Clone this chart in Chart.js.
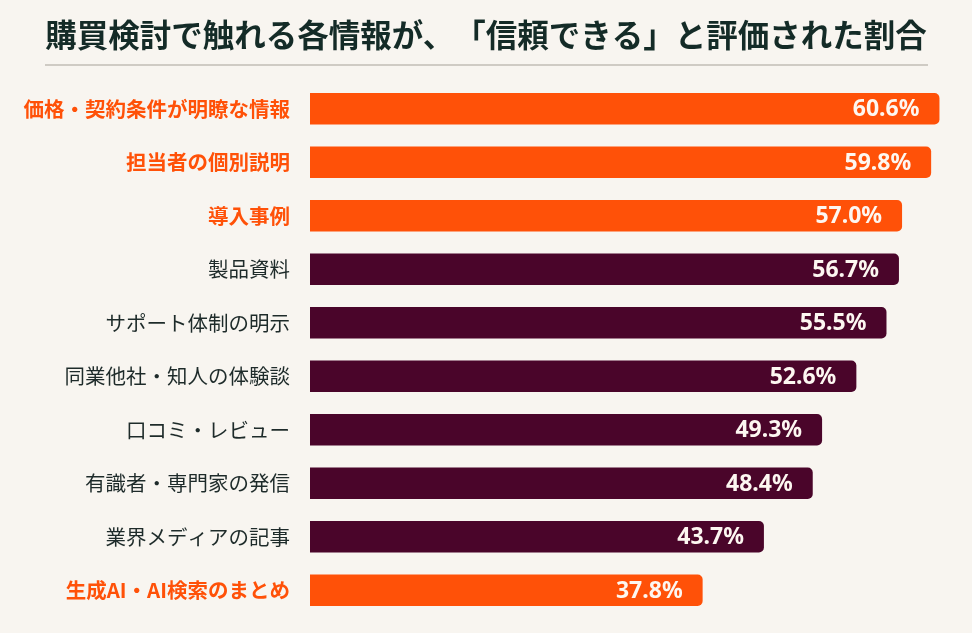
<!DOCTYPE html>
<html lang="ja">
<head>
<meta charset="utf-8">
<script src="https://cdn.jsdelivr.net/npm/chart.js@4"></script>
<style>
  html, body { margin: 0; padding: 0; background: #f8f5f0; }
  #wrap { width: 972px; height: 633px; }
</style>
</head>
<body>
<div id="wrap"><canvas id="trustChart" width="972" height="633"></canvas></div>
<script>
// タイトルは「、」と「「」の間が詰まらないよう 2 つに分けて描く
const titleParts = ['購買検討で触れる各情報が、', '「信頼できる」と評価された割合'];
const categories = [
    '価格・契約条件が明瞭な情報',
    '担当者の個別説明',
    '導入事例',
    '製品資料',
    'サポート体制の明示',
    '同業他社・知人の体験談',
    '口コミ・レビュー',
    '有識者・専門家の発信',
    '業界メディアの記事',
    '生成AI・AI検索のまとめ'
];
const trustRates = [60.6, 59.8, 57.0, 56.7, 55.5, 52.6, 49.3, 48.4, 43.7, 37.8];
const highlighted = [true, true, true, false, false, false, false, false, false, true];

const ORANGE = '#ff5108';
const MAROON = '#4a052a';
const DARK = '#1e2b2a';
const FONT = '"Noto Sans CJK JP", "Noto Sans", sans-serif';

document.addEventListener('DOMContentLoaded', () => {
    // 値ラベル（バーの右端内側）
    const valueLabels = {
        id: 'valueLabels',
        afterDatasetsDraw(chart) {
            const ctx = chart.ctx;
            const meta = chart.getDatasetMeta(0);
            ctx.save();
            ctx.font = 'bold 23px "Noto Sans", ' + FONT;
            ctx.fillStyle = '#fdf7f1';
            ctx.textAlign = 'right';
            ctx.textBaseline = 'middle';
            meta.data.forEach((bar, i) => {
                ctx.fillText(trustRates[i].toFixed(1) + '%', bar.x - 20, bar.y + 1);
            });
            ctx.restore();
        }
    };

    // タイトルと区切り線
    const titleBlock = {
        id: 'titleBlock',
        afterDraw(chart) {
            const ctx = chart.ctx;
            ctx.save();
            ctx.font = '700 31.5px ' + FONT;
            ctx.fillStyle = '#142b27';
            ctx.textAlign = 'left';
            ctx.textBaseline = 'middle';
            const widths = titleParts.map(t => ctx.measureText(t).width);
            const total = widths.reduce((a, b) => a + b, 0);
            let x = 486 - total / 2;
            titleParts.forEach((t, i) => {
                ctx.fillText(t, x, 35);
                x += widths[i];
            });

            ctx.strokeStyle = '#cfcbc4';
            ctx.lineWidth = 2;
            ctx.beginPath();
            ctx.moveTo(45, 65);
            ctx.lineTo(928, 65);
            ctx.stroke();
            ctx.restore();
        }
    };

    const config = {
        type: 'bar',
        data: {
            labels: categories,
            datasets: [{
                data: trustRates,
                backgroundColor: highlighted.map(h => h ? ORANGE : MAROON),
                borderRadius: 5,
                borderSkipped: 'start',
                categoryPercentage: 1,
                barPercentage: 0.59
            }]
        },
        options: {
            indexAxis: 'y',
            responsive: false,
            animation: false,
            layout: { padding: { left: 0, right: 18, top: 82, bottom: 16 } },
            plugins: {
                legend: { display: false },
                tooltip: { enabled: false },
                title: { display: false }
            },
            scales: {
                x: {
                    display: false,
                    min: 0,
                    max: 62
                },
                y: {
                    grid: { display: false, drawTicks: false, tickLength: 0 },
                    border: { display: false },
                    afterFit(scale) {
                        scale.width = 310;
                        scale.paddingTop = 0;
                        scale.paddingBottom = 0;
                    },
                    ticks: {
                        padding: 20,
                        color: ctx => highlighted[ctx.index] ? ORANGE : DARK,
                        font: ctx => ({
                            family: FONT,
                            size: 20.5,
                            weight: highlighted[ctx.index] ? '700' : '400'
                        })
                    }
                }
            }
        },
        plugins: [valueLabels, titleBlock]
    };

    new Chart(document.getElementById('trustChart').getContext('2d'), config);
});
</script>
</body>
</html>
